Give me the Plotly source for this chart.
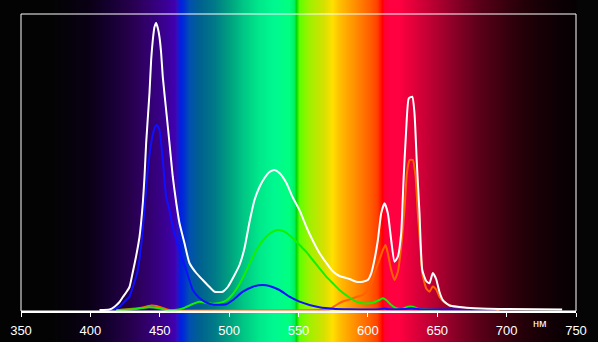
import zlib, struct, base64
import plotly.graph_objects as go

# ---------------- data ----------------
white_nm = [406.6, 413.8, 417.4, 421.0, 423.4, 426.0, 428.2, 430.6, 433.0, 435.4, 437.8, 439.0, 440.2,
            442.6, 443.8, 445.0, 446.2, 447.4, 448.6, 449.8, 451.0, 452.2, 454.6, 457.0, 459.4, 461.9,
            464.2, 467.8, 471.4, 476.3, 481.0, 485.9, 489.5, 495.4, 499.0, 503.9, 507.5, 511.1, 514.7,
            518.3, 521.9, 525.5, 529.1, 532.7, 536.3, 541.3, 545.7, 550.7, 555.7, 560.1, 565.1, 570.1,
            574.5, 579.5, 586.7, 591.6, 596.3, 599.9, 602.4, 604.7, 607.2, 609.6, 612.0, 614.4, 616.8,
            619.2, 621.6, 624.0, 625.7, 627.6, 629.5, 632.0, 633.6, 635.3, 637.2, 639.2, 642.0, 644.4,
            646.8, 649.2, 651.6, 654.0, 656.5, 658.8, 664.6, 671.1, 676.8, 694.8, 740.0]
white_val = [0, 0.5, 3.3, 8, 13, 18, 23, 38, 54, 73, 107, 133, 167,
             217, 250, 270, 283, 287, 282, 273, 257, 233, 200, 167, 133, 107,
             87, 67, 47, 37, 30, 23, 18.3, 18.3, 23, 35, 45, 62, 88,
             110, 123, 132, 138, 140, 137, 127, 113, 100, 83, 70, 57, 47,
             39, 34, 31, 28.3, 28.3, 30, 36.7, 50, 70, 96.7, 106.7, 96.7, 70,
             48.3, 53.3, 76.7, 130, 180, 211.7, 213.3, 196.7, 146.7, 96.7, 40, 29, 26.7,
             37, 31, 18, 10, 6.7, 4.5, 3.3, 2.3, 1.7, 1, 0.5]

blue_nm = [413.8, 416.2, 421.0, 425.8, 428.2, 430.6, 433.0, 434.2, 436.6, 439.0, 441.4, 443.8, 446.2,
           447.9, 449.8, 452.2, 454.6, 457.0, 459.4, 464.2, 469.1, 473.8, 478.6, 483.5, 488.2, 497.9,
           502.7, 509.9, 517.1, 524.3, 529.1, 536.3, 543.5, 550.7, 557.9, 565.1, 574.5, 586.7, 608.3,
           612.0, 615.6, 626.5, 631.4, 637.2, 692.6]
blue_val = [0, 0.5, 3.3, 10, 13.3, 23, 33.3, 40, 64, 100, 140, 166.7, 181.7,
            185, 180, 150, 113.3, 100, 83.3, 60, 40, 20, 12, 7.5, 5.5, 5.7,
            10, 18.3, 23.3, 25, 24, 20, 13.3, 8.3, 5, 2.7, 1.3, 0.7, 0.7,
            1.5, 0.7, 1, 1.7, 0.8, 0.5]

green_nm = [418.6, 428.2, 435.4, 442.6, 448.4, 454.6, 460.6, 466.6, 473.8, 478.6, 483.5, 488.2, 493.0,
            497.9, 502.7, 507.5, 512.3, 517.1, 521.9, 526.7, 531.5, 535.1, 539.9, 545.9, 550.7, 555.5,
            560.3, 565.1, 570.0, 574.7, 579.5, 586.7, 591.6, 596.3, 603.5, 608.3, 610.8, 613.2, 616.8,
            620.4, 625.2, 628.8, 632.4, 636.0, 640.8, 651.6]
green_val = [0, 0.5, 1.5, 2.7, 2, 0, 0, 1.5, 6, 8.3, 7, 6.2, 7,
             9.5, 16, 26, 39, 53, 65, 73.3, 78.3, 80, 78.3, 71.7, 65, 58.3,
             50, 41.7, 33.3, 26.7, 20, 12.5, 8.3, 6.7, 7.3, 10, 11.7, 10, 5,
             1.7, 1.3, 3.3, 3.3, 1.3, 0.5, 0]

orange_nm = [421.0, 426.8, 435.4, 440.5, 444.1, 447.7, 452.0, 457.0, 565.1, 572.3, 577.2, 581.9, 586.7,
             591.6, 596.3, 599.9, 602.4, 604.7, 608.3, 610.8, 612.7, 614.4, 616.8, 619.2, 621.6, 624.0,
             626.5, 628.1, 630.1, 632.4, 634.4, 636.0, 637.8, 639.2, 642.0, 644.4, 646.8, 649.2, 651.6,
             655.2, 658.8, 663.6, 670.9, 675.6, 687.7, 694.8]
orange_val = [0, 0.7, 2, 3.5, 4.5, 4, 2, 0, 0, 0.5, 5, 8.5, 10.5,
              13, 15, 20, 26.7, 36.7, 50, 60, 65, 56.7, 40, 30, 38.3, 63.3,
              103.3, 136.7, 150, 150, 133.3, 96.7, 63.3, 36.7, 21.7, 18.3, 23.5, 20.5, 13.3,
              7.5, 5, 2.7, 2, 1.3, 0.5, 0]

tick_vals = [350, 400, 450, 500, 550, 600, 650, 700, 750]
tick_text = ["350", "400", "450", "500", "550", "600", "650", "700", "750"]
unit_label = "нм"

# spectrum background colour stops (wavelength, colour)
spec_nm = [340, 372, 399.4, 413.8, 428.2, 442.6, 453.4, 460.6, 462.8, 465.0, 467.9, 471.4, 478.6,
           489.5, 500.3, 511.1, 521.9, 532.7, 543.5, 547.1, 548.6, 550.8, 557.9, 568.8, 574.5,
           579.5, 586.7, 593.9, 601.1, 606.9, 609.7, 610.5, 611.9, 615.5, 622.7, 633.5, 644.3,
           655.2, 666.0, 680.4, 694.8, 709.2, 723.7, 738.1, 749.6, 752, 770]
spec_col = ["#030303", "#030303", "#0a0015", "#150030", "#25004a", "#330070", "#3a0090", "#4000b0",
            "#3010c0", "#0020e0", "#0030d0", "#0050b0", "#00608f",
            "#007a88", "#00a07f", "#00c885", "#00e88a", "#00f890", "#00ff80", "#00f060", "#00d800",
            "#60ff00", "#a0f000", "#d8e000", "#ffe000",
            "#ffc000", "#ffa000", "#ff8000", "#ff6000", "#ff4000", "#ff1000", "#ff0000", "#ff0030",
            "#ff0040", "#ff0040", "#e0003a", "#c00034",
            "#a0002c", "#800024", "#5a0018", "#400010", "#28000a", "#180006", "#0c0004", "#060003",
            "#050505", "#050505"]

# ---------------- layout geometry ----------------
W, H = 598, 342
ML, MR, MT, MB = 21, 22, 14, 31
PW, PH = W - ML - MR, H - MT - MB
X0, X1 = 350, 750
Y0, Y1 = -1, 296


def hex2rgb(h):
    h = h.lstrip("#")
    return tuple(int(h[i:i + 2], 16) for i in (0, 2, 4))


def spec_color(lam):
    if lam <= spec_nm[0]:
        return hex2rgb(spec_col[0])
    for i in range(1, len(spec_nm)):
        if lam <= spec_nm[i]:
            a, b = spec_nm[i - 1], spec_nm[i]
            t = (lam - a) / (b - a)
            c0, c1 = hex2rgb(spec_col[i - 1]), hex2rgb(spec_col[i])
            return tuple(int(round(c0[k] + (c1[k] - c0[k]) * t)) for k in range(3))
    return hex2rgb(spec_col[-1])


def png_uri(row, nrows=2):
    w = len(row)
    line = b"\x00" + bytes([c for px in row for c in px])
    raw = line * nrows

    def chunk(t, d):
        return struct.pack(">I", len(d)) + t + d + struct.pack(">I", zlib.crc32(t + d) & 0xffffffff)

    png = (b"\x89PNG\r\n\x1a\n" + chunk(b"IHDR", struct.pack(">IIBBBBB", w, nrows, 8, 2, 0, 0, 0))
           + chunk(b"IDAT", zlib.compress(raw)) + chunk(b"IEND", b""))
    return "data:image/png;base64," + base64.b64encode(png).decode()


scale = PW / (X1 - X0)
row = [spec_color(X0 + (px + 0.5 - ML) / scale) for px in range(W)]
bg_uri = png_uri(row)

fig = go.Figure()
for xs, ys, col in [(orange_nm, orange_val, "#ff6000"),
                    (green_nm, green_val, "#10f000"),
                    (blue_nm, blue_val, "#1010ff"),
                    (white_nm, white_val, "#ffffff")]:
    fig.add_trace(go.Scatter(x=xs, y=ys, mode="lines", line=dict(color=col, width=2, shape="spline", smoothing=0.5),
                             hoverinfo="skip", showlegend=False))

fig.add_layout_image(dict(source=bg_uri, xref="paper", yref="paper",
                          x=-ML / PW, y=1 + MT / PH, sizex=W / PW, sizey=H / PH,
                          xanchor="left", yanchor="top", sizing="stretch", layer="below"))

fig.add_shape(type="rect", xref="paper", yref="paper", x0=0, x1=1, y0=0, y1=1,
              line=dict(color="white", width=1), fillcolor="rgba(0,0,0,0)", layer="above")

fig.add_annotation(x=724, y=-0.039, xref="x", yref="paper", text=unit_label, showarrow=False,
                   font=dict(family="Liberation Sans, Arial", size=11, color="white"),
                   xanchor="center", yanchor="middle")

fig.update_layout(
    template="none",
    width=W, height=H,
    margin=dict(l=ML, r=MR, t=MT, b=MB, pad=0, autoexpand=False),
    paper_bgcolor="#030303", plot_bgcolor="rgba(0,0,0,0)",
    font=dict(family="Liberation Sans, Arial", size=13, color="white"),
    xaxis=dict(range=[X0, X1], tickmode="array", tickvals=tick_vals, ticktext=tick_text,
               automargin=False,
               showgrid=False, zeroline=False, showline=True, linecolor="white", linewidth=2,
               ticks="outside", ticklen=4, tickwidth=1, tickcolor="white", ticklabelstandoff=2,
               tickfont=dict(color="white", size=13, family="Liberation Sans, Arial")),
    yaxis=dict(range=[Y0, Y1], visible=False, showgrid=False, zeroline=False, automargin=False),
)

fig.write_html("out.html")
